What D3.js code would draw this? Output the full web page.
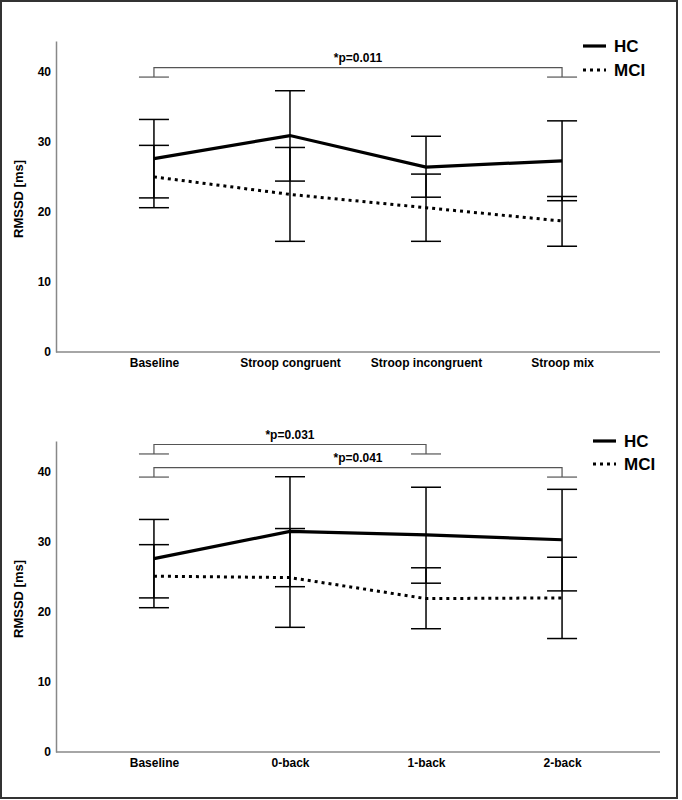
<!DOCTYPE html>
<html>
<head>
<meta charset="utf-8">
<script src="https://cdn.jsdelivr.net/npm/d3@7"></script>
<style>
  html, body { margin: 0; padding: 0; background: #fff; }
  svg { display: block; }
  text { font-family: "Liberation Sans", Arial, sans-serif; font-weight: bold; fill: #000; }
</style>
</head>
<body>
<svg id="chart" width="682" height="800"></svg>
<script>
// ---------- data ----------
const categoriesStroop = ["Baseline", "Stroop congruent", "Stroop incongruent", "Stroop mix"];
const hcStroopMean  = [27.6, 30.9, 26.4, 27.3];
const hcStroopLower = [22.0, 24.4, 22.1, 21.6];
const hcStroopUpper = [33.2, 37.3, 30.8, 33.0];
const mciStroopMean  = [25.0, 22.5, 20.6, 18.7];
const mciStroopLower = [20.6, 15.8, 15.8, 15.1];
const mciStroopUpper = [29.5, 29.2, 25.4, 22.2];

const categoriesNback = ["Baseline", "0-back", "1-back", "2-back"];
const hcNbackMean  = [27.6, 31.5, 31.0, 30.3];
const hcNbackLower = [22.0, 23.6, 24.1, 23.0];
const hcNbackUpper = [33.2, 39.3, 37.8, 37.5];
const mciNbackMean  = [25.1, 24.9, 21.9, 22.0];
const mciNbackLower = [20.6, 17.8, 17.6, 16.2];
const mciNbackUpper = [29.6, 31.9, 26.3, 27.8];

const yTicks = [0, 10, 20, 30, 40];
const yMax = 44.4;
const yTitle = "RMSSD [ms]";
const seriesNames = ["HC", "MCI"];

const bracketsStroop = [{ from: 0, to: 3, level: 40.6, drop: 1.35, label: "*p=0.011" }];
const bracketsNback = [
  { from: 0, to: 2, level: 43.9, drop: 1.35, label: "*p=0.031" },
  { from: 0, to: 3, level: 40.6, drop: 1.35, label: "*p=0.041" }
];

// ---------- drawing ----------
const svg = d3.select("#chart");

svg.append("rect")
  .attr("x", 1).attr("y", 1).attr("width", 676).attr("height", 797)
  .attr("fill", "none").attr("stroke", "#333").attr("stroke-width", 2);

function drawPanel(offsetY, cats, hcM, hcL, hcU, mM, mL, mU, brackets, legendX, legendRows) {
  const g = svg.append("g").attr("transform", `translate(0,${offsetY})`);
  const x = d3.scalePoint().domain(cats).range([56, 660]).padding(0.72);
  const y = d3.scaleLinear().domain([0, yMax]).range([352, 41]);

  // axes
  const yAxis = g.append("g").attr("transform", "translate(56,0)")
    .call(d3.axisLeft(y).tickValues(yTicks).tickSize(0).tickPadding(5).tickFormat(d3.format("d")));
  yAxis.select(".domain").attr("stroke", "#888").attr("stroke-width", 1.5);
  yAxis.selectAll("text").style("font-size", "12px").style("font-family", "Liberation Sans, Arial, sans-serif").style("font-weight", "bold").attr("fill", "#000");

  const xAxis = g.append("g").attr("transform", "translate(0,352)")
    .call(d3.axisBottom(x).tickSize(0).tickPadding(6));
  xAxis.select(".domain").attr("stroke", "#888").attr("stroke-width", 1.5).attr("d", "M56,0H660");
  xAxis.selectAll("text").style("font-size", "12px").style("font-family", "Liberation Sans, Arial, sans-serif").style("font-weight", "bold").attr("fill", "#000");

  // y title
  g.append("text")
    .attr("transform", "translate(23,199) rotate(-90)")
    .attr("text-anchor", "middle")
    .style("font-size", "13px")
    .text(yTitle);

  // error bars
  const capW = 15;
  function errBars(lo, hi) {
    const eb = g.append("g").attr("stroke", "#000").attr("stroke-width", 1.5);
    cats.forEach((c, i) => {
      const cx = x(c);
      eb.append("line").attr("x1", cx).attr("x2", cx).attr("y1", y(lo[i])).attr("y2", y(hi[i]));
      eb.append("line").attr("x1", cx - capW).attr("x2", cx + capW).attr("y1", y(lo[i])).attr("y2", y(lo[i]));
      eb.append("line").attr("x1", cx - capW).attr("x2", cx + capW).attr("y1", y(hi[i])).attr("y2", y(hi[i]));
    });
  }
  errBars(hcL, hcU);
  errBars(mL, mU);

  const line = d3.line().x(d => x(d.c)).y(d => y(d.v));
  g.append("path")
    .datum(cats.map((c, i) => ({ c, v: hcM[i] })))
    .attr("d", line).attr("fill", "none").attr("stroke", "#000").attr("stroke-width", 3.2);
  g.append("path")
    .datum(cats.map((c, i) => ({ c, v: mM[i] })))
    .attr("d", line).attr("fill", "none").attr("stroke", "#000").attr("stroke-width", 3)
    .attr("stroke-dasharray", "3,4");

  // brackets
  brackets.forEach(b => {
    const x1 = x(cats[b.from]), x2 = x(cats[b.to]);
    const yl = y(b.level), yd = y(b.level - b.drop);
    const bg = g.append("g").attr("stroke", "#555").attr("stroke-width", 1.2).attr("fill", "none");
    bg.append("path").attr("d", `M${x1},${yd}V${yl}H${x2}V${yd}`);
    bg.append("line").attr("x1", x1 - capW).attr("x2", x1 + capW).attr("y1", yd).attr("y2", yd);
    bg.append("line").attr("x1", x2 - capW).attr("x2", x2 + capW).attr("y1", yd).attr("y2", yd);
    g.append("text").attr("x", (x1 + x2) / 2).attr("y", yl - 6)
      .attr("text-anchor", "middle").style("font-size", "12px").text(b.label);
  });

  // legend
  const lg = g.append("g");
  lg.append("line").attr("x1", legendX).attr("x2", legendX + 23).attr("y1", legendRows[0]).attr("y2", legendRows[0])
    .attr("stroke", "#000").attr("stroke-width", 3.2);
  lg.append("line").attr("x1", legendX).attr("x2", legendX + 23).attr("y1", legendRows[1]).attr("y2", legendRows[1])
    .attr("stroke", "#000").attr("stroke-width", 3).attr("stroke-dasharray", "3,4");
  seriesNames.forEach((n, i) => {
    lg.append("text").attr("x", legendX + 31).attr("y", legendRows[i]).attr("dy", "0.36em")
      .style("font-size", "17px").text(n);
  });
}

drawPanel(0, categoriesStroop, hcStroopMean, hcStroopLower, hcStroopUpper,
  mciStroopMean, mciStroopLower, mciStroopUpper, bracketsStroop, 583, [46, 70]);
drawPanel(400, categoriesNback, hcNbackMean, hcNbackLower, hcNbackUpper,
  mciNbackMean, mciNbackLower, mciNbackUpper, bracketsNback, 593, [41, 64]);
</script>
</body>
</html>
